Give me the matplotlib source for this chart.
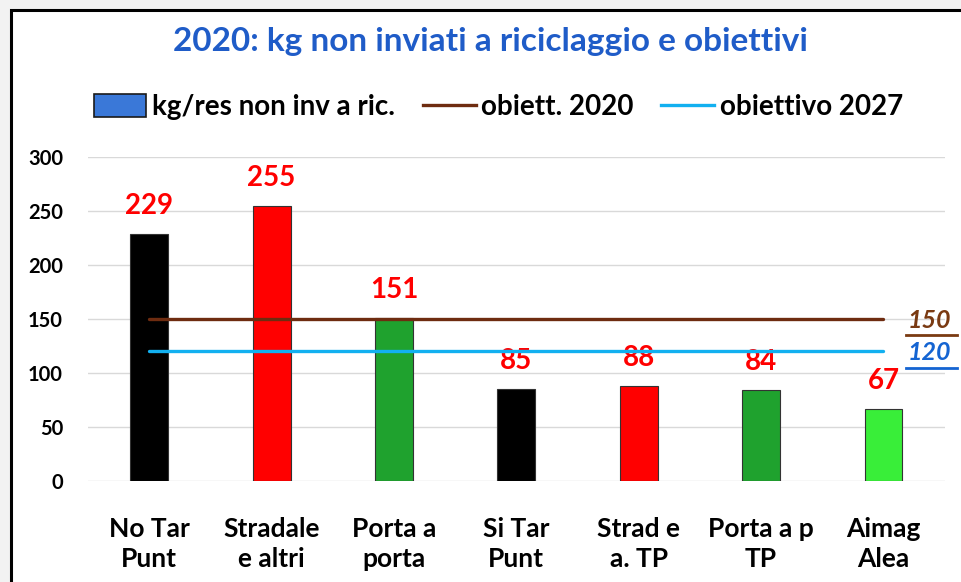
import matplotlib
matplotlib.use("Agg")
import matplotlib.pyplot as plt
from matplotlib.patches import Rectangle, Patch
from matplotlib.lines import Line2D

# ── Data ────────────────────────────────────────────────────────────────
categories = ["No Tar\nPunt", "Stradale\ne altri", "Porta a\nporta", "Si Tar\nPunt",
              "Strad e\na. TP", "Porta a p\nTP", "Aimag\nAlea"]
kg_non_inv = [229, 255, 151, 85, 88, 84, 67]
bar_colors = ["#000000", "#FF0000", "#1FA22E", "#000000", "#FF0000", "#1FA22E", "#39EE39"]
obj_2020 = 150
obj_2027 = 120
yticks = [0, 50, 100, 150, 200, 250, 300]

plt.rcParams["font.family"] = ["Lato", "DejaVu Sans"]
plt.rcParams["font.weight"] = "bold"

fig = plt.figure(figsize=(9.62, 5.82), dpi=100, facecolor="#F2F2F2")
# white panel with black frame (right/bottom run off the picture)
fig.patches.append(Rectangle((0.011, -0.05), 1.05, 1.033, transform=fig.transFigure,
                             facecolor="white", edgecolor="black", linewidth=2.2, zorder=-5))

ax = fig.add_axes([0.0915, 0.1735, 0.8905, 0.5565])
ax.set_zorder(2)
ax.set_facecolor("none")
x = list(range(len(categories)))
ax.bar(x, kg_non_inv, width=0.31, color=bar_colors, edgecolor="#333333", linewidth=0.8, zorder=3)
for xi, v in zip(x, kg_non_inv):
    ax.text(xi, v + 14, str(v), ha="center", va="bottom", color="#FF0000",
            fontsize=20, fontweight="bold", zorder=4)

ax.plot([x[0], x[-1]], [obj_2020, obj_2020], color="#6E2C10", linewidth=2.4, zorder=4,
        solid_capstyle="round")
ax.plot([x[0], x[-1]], [obj_2027, obj_2027], color="#12B0F0", linewidth=2.4, zorder=4,
        solid_capstyle="round")

# right-hand target labels, underlined
for val, col in [(obj_2020, "#7A3A12"), (obj_2027, "#1464D2")]:
    ax.text(x[-1] + 0.2, val - 1, str(val), ha="left", va="center", color=col,
            fontsize=18, fontweight="bold", fontstyle="italic", clip_on=False)
    ax.plot([x[-1] + 0.18, x[-1] + 0.6], [val - 15, val - 15], color=col,
            linewidth=2.0, clip_on=False)

ax.set_xlim(-0.5, len(categories) - 0.5)
ax.set_ylim(0, 300)
ax.set_yticks(yticks)
ax.set_xticks(x)
ax.set_xticklabels(categories, fontsize=19, fontweight="bold", linespacing=1.3)
ax.tick_params(axis="y", labelsize=14.5, length=0, pad=18)
ax.tick_params(axis="x", length=0, pad=26)
ax.grid(axis="y", color="#D9D9D9", linewidth=1, zorder=0)
for s in ax.spines.values():
    s.set_visible(False)

fig.text(0.51, 0.928, "2020: kg non inviati a riciclaggio e obiettivi", ha="center", va="center",
         color="#1F5CC8", fontsize=24, fontweight="bold")

handles = [Patch(facecolor="#3A78D8", edgecolor="#1A1A1A", linewidth=1.2),
           Line2D([], [], color="#6E2C10", linewidth=2.4),
           Line2D([], [], color="#12B0F0", linewidth=2.4)]
fig.legend(handles, ["kg/res non inv a ric.", "obiett. 2020", "obiettivo 2027"],
           loc="center", bbox_to_anchor=(0.518, 0.816), ncol=3, frameon=False,
           handlelength=1.9, handleheight=0.9, handletextpad=0.2, columnspacing=1.0,
           prop={"weight": "bold", "size": 20})

fig.savefig("out.png", dpi=100, facecolor=fig.get_facecolor())
